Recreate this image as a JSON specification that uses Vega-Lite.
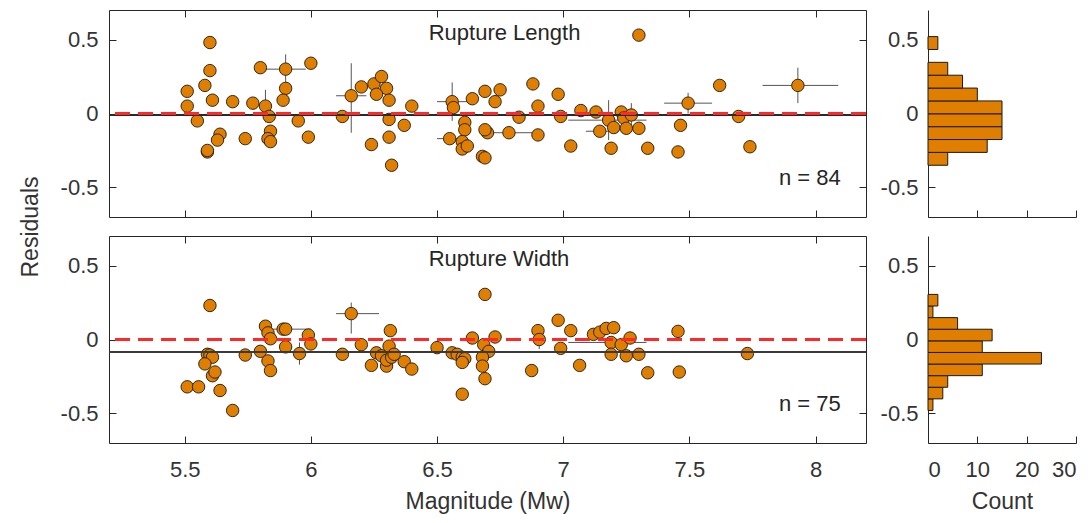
{
  "$schema": "https://vega.github.io/schema/vega-lite/v6.json",
  "background": "white",
  "padding": {"left": 18, "top": 9, "right": 2, "bottom": 5},
  "autosize": {"type": "pad"},
  "config": {
    "font": "Liberation Sans",
    "view": {"stroke": "#262626", "strokeWidth": 1},
    "axis": {
      "labelFont": "Liberation Sans", "titleFont": "Liberation Sans",
      "labelFontSize": 22, "titleFontSize": 23, "labelColor": "#333333", "titleColor": "#333333",
      "titleFontWeight": "normal", "tickColor": "#262626", "domainColor": "#262626",
      "grid": false, "tickSize": -7, "labelPadding": 18, "domain": false
    }
  },
  "datasets": {
    "len": [
      {"m": 5.60, "r": 0.48}, {"m": 5.60, "r": 0.29}, {"m": 5.58, "r": 0.19}, {"m": 5.51, "r": 0.15},
      {"m": 5.51, "r": 0.05}, {"m": 5.61, "r": 0.09}, {"m": 5.55, "r": -0.05}, {"m": 5.64, "r": -0.14},
      {"m": 5.63, "r": -0.18}, {"m": 5.59, "r": -0.26}, {"m": 5.59, "r": -0.25}, {"m": 5.69, "r": 0.08},
      {"m": 5.74, "r": -0.17}, {"m": 5.77, "r": 0.07}, {"m": 5.80, "r": 0.31},
      {"m": 5.90, "r": 0.30, "xlo": 5.80, "xhi": 5.98, "ylo": 0.19, "yhi": 0.40},
      {"m": 5.90, "r": 0.17}, {"m": 5.89, "r": 0.09},
      {"m": 5.82, "r": 0.05, "ylo": -0.06, "yhi": 0.16},
      {"m": 5.835, "r": -0.02}, {"m": 5.84, "r": -0.12}, {"m": 5.83, "r": -0.17}, {"m": 5.84, "r": -0.19},
      {"m": 5.95, "r": -0.05}, {"m": 6.00, "r": 0.34}, {"m": 5.99, "r": -0.16}, {"m": 6.125, "r": -0.02},
      {"m": 6.16, "r": 0.12, "xlo": 6.10, "xhi": 6.22, "ylo": -0.13, "yhi": 0.34},
      {"m": 6.20, "r": 0.18}, {"m": 6.25, "r": 0.20}, {"m": 6.28, "r": 0.25}, {"m": 6.30, "r": 0.17},
      {"m": 6.26, "r": 0.13}, {"m": 6.31, "r": 0.09}, {"m": 6.31, "r": -0.04}, {"m": 6.37, "r": -0.08},
      {"m": 6.31, "r": -0.16}, {"m": 6.24, "r": -0.21}, {"m": 6.32, "r": -0.35}, {"m": 6.40, "r": 0.05},
      {"m": 6.56, "r": 0.08, "xlo": 6.50, "xhi": 6.62, "ylo": -0.05, "yhi": 0.21},
      {"m": 6.565, "r": 0.04}, {"m": 6.64, "r": 0.10}, {"m": 6.69, "r": 0.15}, {"m": 6.61, "r": -0.06},
      {"m": 6.61, "r": -0.11},
      {"m": 6.55, "r": -0.17, "xlo": 6.50, "xhi": 6.60},
      {"m": 6.60, "r": -0.19}, {"m": 6.60, "r": -0.24}, {"m": 6.62, "r": -0.22}, {"m": 6.68, "r": -0.29},
      {"m": 6.69, "r": -0.30}, {"m": 6.70, "r": -0.13}, {"m": 6.75, "r": 0.16}, {"m": 6.73, "r": 0.08},
      {"m": 6.69, "r": -0.11},
      {"m": 6.785, "r": -0.13, "xlo": 6.67, "xhi": 6.90},
      {"m": 6.90, "r": -0.145}, {"m": 6.825, "r": -0.025}, {"m": 6.88, "r": 0.20}, {"m": 6.90, "r": 0.05},
      {"m": 6.98, "r": 0.13}, {"m": 6.99, "r": -0.02}, {"m": 7.03, "r": -0.22}, {"m": 7.07, "r": 0.02},
      {"m": 7.13, "r": 0.01},
      {"m": 7.18, "r": -0.045, "xlo": 7.02, "xhi": 7.33, "ylo": -0.18, "yhi": 0.09},
      {"m": 7.145, "r": -0.12, "xlo": 7.09, "xhi": 7.20},
      {"m": 7.20, "r": -0.095}, {"m": 7.19, "r": -0.235}, {"m": 7.23, "r": 0.01}, {"m": 7.24, "r": -0.03},
      {"m": 7.27, "r": -0.01, "ylo": -0.08, "yhi": 0.07},
      {"m": 7.25, "r": -0.10}, {"m": 7.30, "r": -0.10}, {"m": 7.335, "r": -0.235}, {"m": 7.30, "r": 0.53},
      {"m": 7.465, "r": -0.08}, {"m": 7.455, "r": -0.26},
      {"m": 7.495, "r": 0.07, "xlo": 7.40, "xhi": 7.59, "ylo": 0.0, "yhi": 0.14},
      {"m": 7.62, "r": 0.19}, {"m": 7.695, "r": -0.02}, {"m": 7.74, "r": -0.225},
      {"m": 7.93, "r": 0.19, "xlo": 7.79, "xhi": 8.09, "ylo": 0.07, "yhi": 0.31}
    ],
    "wid": [
      {"m": 5.60, "r": 0.23}, {"m": 5.59, "r": -0.10}, {"m": 5.60, "r": -0.105}, {"m": 5.61, "r": -0.12},
      {"m": 5.58, "r": -0.165}, {"m": 5.61, "r": -0.245}, {"m": 5.62, "r": -0.22}, {"m": 5.51, "r": -0.32},
      {"m": 5.555, "r": -0.32}, {"m": 5.64, "r": -0.345}, {"m": 5.69, "r": -0.48}, {"m": 5.74, "r": -0.105},
      {"m": 5.80, "r": -0.08}, {"m": 5.82, "r": 0.09}, {"m": 5.83, "r": 0.045}, {"m": 5.84, "r": 0.005},
      {"m": 5.83, "r": -0.145}, {"m": 5.84, "r": -0.21}, {"m": 5.89, "r": 0.07},
      {"m": 5.90, "r": 0.07, "xlo": 5.80, "xhi": 6.00},
      {"m": 5.90, "r": -0.05},
      {"m": 5.955, "r": -0.095, "ylo": -0.17, "yhi": -0.02},
      {"m": 5.99, "r": 0.03}, {"m": 6.00, "r": -0.03}, {"m": 6.125, "r": -0.10},
      {"m": 6.16, "r": 0.175, "xlo": 6.10, "xhi": 6.27, "ylo": 0.04, "yhi": 0.25},
      {"m": 6.20, "r": -0.035}, {"m": 6.26, "r": -0.09}, {"m": 6.28, "r": -0.11}, {"m": 6.315, "r": 0.06},
      {"m": 6.31, "r": -0.045}, {"m": 6.24, "r": -0.175}, {"m": 6.30, "r": -0.18}, {"m": 6.30, "r": -0.14},
      {"m": 6.32, "r": -0.12}, {"m": 6.33, "r": -0.10}, {"m": 6.37, "r": -0.15}, {"m": 6.40, "r": -0.20},
      {"m": 6.50, "r": -0.055}, {"m": 6.56, "r": -0.09}, {"m": 6.58, "r": -0.10}, {"m": 6.60, "r": -0.12},
      {"m": 6.61, "r": -0.13}, {"m": 6.60, "r": -0.155}, {"m": 6.60, "r": -0.37},
      {"m": 6.69, "r": 0.305}, {"m": 6.64, "r": 0.01}, {"m": 6.685, "r": -0.035}, {"m": 6.705, "r": -0.08},
      {"m": 6.68, "r": -0.12}, {"m": 6.68, "r": -0.18}, {"m": 6.69, "r": -0.265}, {"m": 6.73, "r": 0.017},
      {"m": 6.875, "r": -0.21}, {"m": 6.90, "r": 0.06},
      {"m": 6.905, "r": 0.0, "ylo": -0.065, "yhi": 0.05},
      {"m": 6.98, "r": 0.13}, {"m": 7.03, "r": 0.06}, {"m": 6.99, "r": -0.06}, {"m": 7.065, "r": -0.175},
      {"m": 7.12, "r": 0.035}, {"m": 7.145, "r": 0.05}, {"m": 7.17, "r": 0.075}, {"m": 7.20, "r": 0.08},
      {"m": 7.19, "r": -0.02, "xlo": 7.02, "xhi": 7.33},
      {"m": 7.19, "r": -0.10}, {"m": 7.23, "r": -0.035}, {"m": 7.265, "r": 0.01}, {"m": 7.25, "r": -0.11},
      {"m": 7.30, "r": -0.10}, {"m": 7.335, "r": -0.225}, {"m": 7.455, "r": 0.055}, {"m": 7.46, "r": -0.22},
      {"m": 7.73, "r": -0.095}
    ],
    "hlen": [
      {"lo": -0.35, "hi": -0.263, "c": 4}, {"lo": -0.263, "hi": -0.176, "c": 12},
      {"lo": -0.176, "hi": -0.089, "c": 15}, {"lo": -0.089, "hi": -0.002, "c": 15},
      {"lo": -0.002, "hi": 0.085, "c": 15}, {"lo": 0.085, "hi": 0.172, "c": 10},
      {"lo": 0.172, "hi": 0.259, "c": 7}, {"lo": 0.259, "hi": 0.346, "c": 4},
      {"lo": 0.433, "hi": 0.52, "c": 2}
    ],
    "hwid": [
      {"lo": -0.48, "hi": -0.4015, "c": 1}, {"lo": -0.4015, "hi": -0.323, "c": 3},
      {"lo": -0.323, "hi": -0.2445, "c": 4}, {"lo": -0.2445, "hi": -0.166, "c": 11},
      {"lo": -0.166, "hi": -0.0875, "c": 23}, {"lo": -0.0875, "hi": -0.009, "c": 11},
      {"lo": -0.009, "hi": 0.0695, "c": 13}, {"lo": 0.0695, "hi": 0.148, "c": 6},
      {"lo": 0.148, "hi": 0.2265, "c": 1}, {"lo": 0.2265, "hi": 0.305, "c": 2}
    ],
    "tlen": [{"x": 6.467, "y": 0.497, "t": "Rupture Length"}],
    "nlen": [{"x": 8.1, "y": -0.483, "t": "n = 84"}],
    "twid": [{"x": 6.467, "y": 0.497, "t": "Rupture Width"}],
    "nwid": [{"x": 8.1, "y": -0.483, "t": "n = 75"}]
  },
  "columns": 2,
  "spacing": {"row": 19, "column": 62},
  "bounds": "flush",
  "concat": [
    {
      "width": 757, "height": 207,
      "data": {"name": "len"},
      "resolve": {"axis": {"x": "independent", "y": "independent"}},
      "layer": [
        {
          "transform": [{"filter": "isValid(datum.xlo)"}],
          "mark": {"type": "rule", "color": "#555555", "strokeWidth": 1},
          "encoding": {
            "x": {"field": "xlo", "type": "quantitative", "scale": {"domain": [5.2, 8.2], "nice": false, "zero": false},
                  "axis": {"values": [5.5, 6, 6.5, 7, 7.5, 8], "labels": false, "title": null}},
            "x2": {"field": "xhi"},
            "y": {"field": "r", "type": "quantitative", "scale": {"domain": [-0.7, 0.7], "nice": false, "zero": false},
                  "axis": {"values": [-0.5, 0, 0.5], "labelExpr": "'' + datum.value", "title": "Residuals", "titleX": -67, "titleY": 216.5}}
          }
        },
        {
          "transform": [{"filter": "isValid(datum.ylo)"}],
          "mark": {"type": "rule", "color": "#555555", "strokeWidth": 1},
          "encoding": {
            "x": {"field": "m", "type": "quantitative", "scale": {"domain": [5.2, 8.2], "nice": false, "zero": false}, "axis": null},
            "y": {"field": "ylo", "type": "quantitative", "scale": {"domain": [-0.7, 0.7], "nice": false, "zero": false}, "axis": null},
            "y2": {"field": "yhi"}
          }
        },
        {
          "mark": {"type": "circle", "size": 155, "fill": "#E07E00", "stroke": "#1a1a1a", "strokeWidth": 0.9, "opacity": 1},
          "encoding": {
            "x": {"field": "m", "type": "quantitative", "scale": {"domain": [5.2, 8.2], "nice": false, "zero": false}, "axis": null},
            "y": {"field": "r", "type": "quantitative", "scale": {"domain": [-0.7, 0.7], "nice": false, "zero": false}, "axis": null}
          }
        },
        {
          "mark": {"type": "rule", "color": "#2a2a2a", "strokeWidth": 1.7},
          "encoding": {"y": {"datum": -0.01, "type": "quantitative", "scale": {"domain": [-0.7, 0.7], "nice": false, "zero": false}, "axis": null}}
        },
        {
          "mark": {"type": "rule", "color": "#FF2B2B", "strokeWidth": 1.5, "strokeDash": [15, 8]},
          "encoding": {"y": {"datum": 0, "type": "quantitative", "scale": {"domain": [-0.7, 0.7], "nice": false, "zero": false}, "axis": null}}
        },
        {
          "data": {"name": "tlen"},
          "mark": {"type": "text", "align": "left", "baseline": "alphabetic", "fontSize": 22, "color": "#262626", "font": "Liberation Sans"},
          "encoding": {
            "x": {"field": "x", "type": "quantitative", "scale": {"domain": [5.2, 8.2], "nice": false, "zero": false},
                  "axis": {"orient": "top", "values": [5.5, 6, 6.5, 7, 7.5, 8], "labels": false, "title": null}},
            "y": {"field": "y", "type": "quantitative", "scale": {"domain": [-0.7, 0.7], "nice": false, "zero": false},
                  "axis": {"orient": "right", "values": [-0.5, 0, 0.5], "labels": false, "title": null}},
            "text": {"field": "t"}
          }
        },
        {
          "data": {"name": "nlen"},
          "mark": {"type": "text", "align": "right", "baseline": "alphabetic", "fontSize": 22, "color": "#262626", "font": "Liberation Sans"},
          "encoding": {
            "x": {"field": "x", "type": "quantitative", "scale": {"domain": [5.2, 8.2], "nice": false, "zero": false}, "axis": null},
            "y": {"field": "y", "type": "quantitative", "scale": {"domain": [-0.7, 0.7], "nice": false, "zero": false}, "axis": null},
            "text": {"field": "t"}
          }
        }
      ]
    },
    {
      "width": 148, "height": 207,
      "view": {"stroke": null},
      "data": {"name": "hlen"},
      "mark": {"type": "bar", "fill": "#E07E00", "stroke": "#1a1a1a", "strokeWidth": 1},
      "encoding": {
        "y": {"field": "lo", "type": "quantitative", "scale": {"domain": [-0.7, 0.7], "nice": false, "zero": false},
              "axis": {"values": [-0.5, 0, 0.5], "labelExpr": "'' + datum.value", "title": null, "domain": true, "labelPadding": 17}},
        "y2": {"field": "hi"},
        "x": {"field": "c", "type": "quantitative", "scale": {"domain": [0, 30], "nice": false},
              "axis": {"values": [0, 10, 20, 30], "labels": false, "title": null, "domain": true}},
        "x2": {"datum": 0}
      }
    },
    {
      "width": 757, "height": 207,
      "data": {"name": "wid"},
      "resolve": {"axis": {"x": "independent", "y": "independent"}},
      "layer": [
        {
          "transform": [{"filter": "isValid(datum.xlo)"}],
          "mark": {"type": "rule", "color": "#555555", "strokeWidth": 1},
          "encoding": {
            "x": {"field": "xlo", "type": "quantitative", "scale": {"domain": [5.2, 8.2], "nice": false, "zero": false},
                  "axis": {"values": [5.5, 6, 6.5, 7, 7.5, 8], "labelExpr": "'' + datum.value", "title": "Magnitude (Mᴡ)", "titlePadding": 10, "labelPadding": 23}},
            "x2": {"field": "xhi"},
            "y": {"field": "r", "type": "quantitative", "scale": {"domain": [-0.7, 0.7], "nice": false, "zero": false},
                  "axis": {"values": [-0.5, 0, 0.5], "labelExpr": "'' + datum.value", "title": null}}
          }
        },
        {
          "transform": [{"filter": "isValid(datum.ylo)"}],
          "mark": {"type": "rule", "color": "#555555", "strokeWidth": 1},
          "encoding": {
            "x": {"field": "m", "type": "quantitative", "scale": {"domain": [5.2, 8.2], "nice": false, "zero": false}, "axis": null},
            "y": {"field": "ylo", "type": "quantitative", "scale": {"domain": [-0.7, 0.7], "nice": false, "zero": false}, "axis": null},
            "y2": {"field": "yhi"}
          }
        },
        {
          "mark": {"type": "circle", "size": 155, "fill": "#E07E00", "stroke": "#1a1a1a", "strokeWidth": 0.9, "opacity": 1},
          "encoding": {
            "x": {"field": "m", "type": "quantitative", "scale": {"domain": [5.2, 8.2], "nice": false, "zero": false}, "axis": null},
            "y": {"field": "r", "type": "quantitative", "scale": {"domain": [-0.7, 0.7], "nice": false, "zero": false}, "axis": null}
          }
        },
        {
          "mark": {"type": "rule", "color": "#3a3a3a", "strokeWidth": 1.8},
          "encoding": {"y": {"datum": -0.085, "type": "quantitative", "scale": {"domain": [-0.7, 0.7], "nice": false, "zero": false}, "axis": null}}
        },
        {
          "mark": {"type": "rule", "color": "#FF2B2B", "strokeWidth": 1.5, "strokeDash": [15, 8]},
          "encoding": {"y": {"datum": 0, "type": "quantitative", "scale": {"domain": [-0.7, 0.7], "nice": false, "zero": false}, "axis": null}}
        },
        {
          "data": {"name": "twid"},
          "mark": {"type": "text", "align": "left", "baseline": "alphabetic", "fontSize": 22, "color": "#262626", "font": "Liberation Sans"},
          "encoding": {
            "x": {"field": "x", "type": "quantitative", "scale": {"domain": [5.2, 8.2], "nice": false, "zero": false},
                  "axis": {"orient": "top", "values": [5.5, 6, 6.5, 7, 7.5, 8], "labels": false, "title": null}},
            "y": {"field": "y", "type": "quantitative", "scale": {"domain": [-0.7, 0.7], "nice": false, "zero": false},
                  "axis": {"orient": "right", "values": [-0.5, 0, 0.5], "labels": false, "title": null}},
            "text": {"field": "t"}
          }
        },
        {
          "data": {"name": "nwid"},
          "mark": {"type": "text", "align": "right", "baseline": "alphabetic", "fontSize": 22, "color": "#262626", "font": "Liberation Sans"},
          "encoding": {
            "x": {"field": "x", "type": "quantitative", "scale": {"domain": [5.2, 8.2], "nice": false, "zero": false}, "axis": null},
            "y": {"field": "y", "type": "quantitative", "scale": {"domain": [-0.7, 0.7], "nice": false, "zero": false}, "axis": null},
            "text": {"field": "t"}
          }
        }
      ]
    },
    {
      "width": 148, "height": 207,
      "view": {"stroke": null},
      "data": {"name": "hwid"},
      "mark": {"type": "bar", "fill": "#E07E00", "stroke": "#1a1a1a", "strokeWidth": 1},
      "encoding": {
        "y": {"field": "lo", "type": "quantitative", "scale": {"domain": [-0.7, 0.7], "nice": false, "zero": false},
              "axis": {"values": [-0.5, 0, 0.5], "labelExpr": "'' + datum.value", "title": null, "domain": true, "labelPadding": 17}},
        "y2": {"field": "hi"},
        "x": {"field": "c", "type": "quantitative", "scale": {"domain": [0, 30], "nice": false},
              "axis": {"values": [0, 10, 20, 30], "labelExpr": "'' + datum.value", "title": "Count", "domain": true, "titlePadding": 10, "labelPadding": 23}},
        "x2": {"datum": 0}
      }
    }
  ]
}
